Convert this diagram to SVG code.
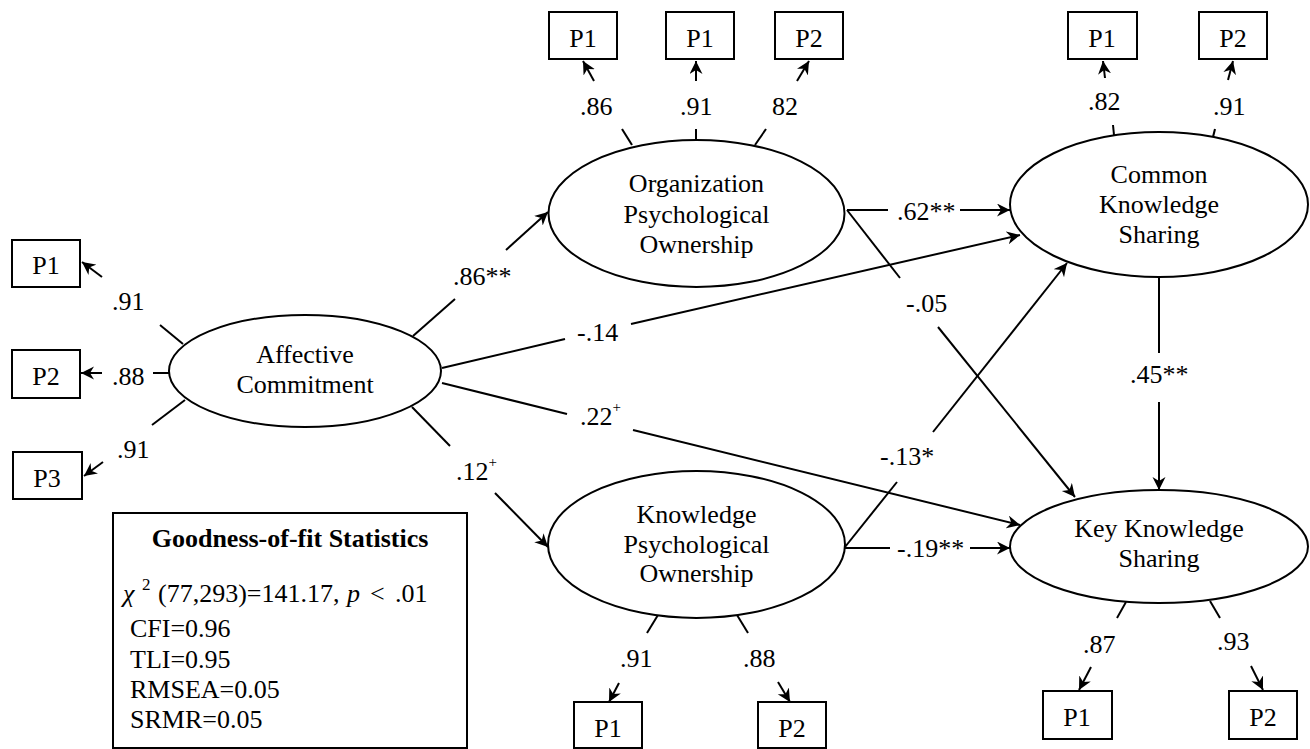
<svg xmlns="http://www.w3.org/2000/svg" width="1310" height="749" viewBox="0 0 1310 749">
<defs>
<style>
text{font-family:'Liberation Serif','Times New Roman',Times,'DejaVu Serif',serif;font-size:26px;fill:#000}
.c{text-anchor:middle}
.box{fill:#fff;stroke:#000;stroke-width:2}
.ell{fill:#fff;stroke:#000;stroke-width:2}
.ln{stroke:#000;stroke-width:2;fill:none}
.ar{stroke:#000;stroke-width:2;fill:none;marker-end:url(#ah)}
.sup{font-size:15px}
.sq{font-size:17px}
</style>
<marker id="ah" markerUnits="userSpaceOnUse" markerWidth="14" markerHeight="14" refX="13" refY="6.5" orient="auto" viewBox="0 0 14 14">
<path d="M0,0 L13,6.5 L0,13 L4,6.5 Z" fill="#000"/>
</marker>
</defs>
<rect width="1310" height="749" fill="#fff"/>

<g id="connectors">
<line class="ln" x1="160" y1="325" x2="183" y2="344"/>
<line class="ar" x1="102" y1="277" x2="82" y2="262"/>
<line class="ln" x1="153" y1="373" x2="170" y2="373"/>
<line class="ar" x1="102" y1="373" x2="81" y2="373"/>
<line class="ln" x1="152" y1="425" x2="185" y2="400"/>
<line class="ar" x1="103" y1="462" x2="84" y2="476"/>
<line class="ln" x1="622" y1="129" x2="632" y2="145"/>
<line class="ar" x1="594" y1="81" x2="583" y2="61"/>
<line class="ln" x1="696" y1="129" x2="696" y2="140"/>
<line class="ar" x1="696" y1="81" x2="696" y2="61"/>
<line class="ln" x1="766" y1="129" x2="755" y2="145"/>
<line class="ar" x1="797" y1="81" x2="809" y2="61"/>
<line class="ln" x1="1113" y1="125" x2="1114" y2="135"/>
<line class="ar" x1="1105" y1="78" x2="1103" y2="61"/>
<line class="ln" x1="1215" y1="129" x2="1213" y2="137"/>
<line class="ar" x1="1228" y1="80" x2="1233" y2="61"/>
<line class="ln" x1="658" y1="615" x2="647" y2="633"/>
<line class="ar" x1="619" y1="683" x2="609" y2="702"/>
<line class="ln" x1="737" y1="615" x2="748" y2="633"/>
<line class="ar" x1="778" y1="682" x2="790" y2="702"/>
<line class="ln" x1="1126" y1="602" x2="1117" y2="618"/>
<line class="ar" x1="1091" y1="667" x2="1079" y2="690"/>
<line class="ln" x1="1210" y1="601" x2="1220" y2="618"/>
<line class="ar" x1="1251" y1="666" x2="1263" y2="690"/>
<line class="ln" x1="413" y1="336" x2="455" y2="299"/>
<line class="ar" x1="506" y1="250" x2="548" y2="212"/>
<line class="ln" x1="442" y1="368" x2="565" y2="339"/>
<line class="ar" x1="631" y1="324" x2="1020" y2="235"/>
<line class="ln" x1="442" y1="383" x2="567" y2="414"/>
<line class="ar" x1="633" y1="430" x2="1020" y2="525"/>
<line class="ln" x1="412" y1="407" x2="450" y2="446"/>
<line class="ar" x1="495" y1="493" x2="548" y2="547"/>
<line class="ln" x1="847" y1="210" x2="888" y2="210"/>
<line class="ar" x1="960" y1="210" x2="1010" y2="210"/>
<line class="ln" x1="847" y1="210" x2="900" y2="278"/>
<line class="ar" x1="938" y1="327" x2="1075" y2="497"/>
<line class="ln" x1="845" y1="547" x2="897" y2="482"/>
<line class="ar" x1="933" y1="432" x2="1067" y2="263"/>
<line class="ln" x1="845" y1="548" x2="890" y2="548"/>
<line class="ar" x1="970" y1="548" x2="1010" y2="548"/>
<line class="ln" x1="1159" y1="277" x2="1159" y2="353"/>
<line class="ar" x1="1159" y1="402" x2="1159" y2="490"/>
</g>

<g id="labels">
<text x="112" y="310">.91</text>
<text x="112" y="385">.88</text>
<text x="117" y="458">.91</text>
<text x="580" y="115">.86</text>
<text x="680" y="115">.91</text>
<text x="772" y="115">82</text>
<text x="1088" y="110">.82</text>
<text x="1213" y="115">.91</text>
<text x="620" y="667">.91</text>
<text x="743" y="667">.88</text>
<text x="1083" y="653">.87</text>
<text x="1217" y="650">.93</text>
<text x="453" y="285">.86**</text>
<text x="577" y="341">-.14</text>
<text x="580" y="425">.22<tspan class="sup" dy="-13">+</tspan></text>
<text x="456" y="480">.12<tspan class="sup" dy="-13">+</tspan></text>
<text x="897" y="220">.62**</text>
<text x="906" y="312">-.05</text>
<text x="880" y="465">-.13*</text>
<text x="897" y="557">-.19**</text>
<text x="1130" y="383">.45**</text>
</g>

<g id="affective">
<ellipse class="ell" cx="305" cy="371" rx="136" ry="56"/>
<text class="c" x="305" y="363">Affective</text>
<text class="c" x="305" y="393">Commitment</text>
</g>
<g id="aff-p1"><rect class="box" x="12" y="240" width="68" height="47"/><text class="c" x="46" y="274">P1</text></g>
<g id="aff-p2"><rect class="box" x="12" y="350" width="68" height="48"/><text class="c" x="46" y="385">P2</text></g>
<g id="aff-p3"><rect class="box" x="13" y="452" width="69" height="47"/><text class="c" x="47" y="487">P3</text></g>

<g id="opo">
<ellipse class="ell" cx="696.5" cy="213.5" rx="148" ry="73.5"/>
<text class="c" x="696.5" y="192">Organization</text>
<text class="c" x="696.5" y="223">Psychological</text>
<text class="c" x="696.5" y="253">Ownership</text>
</g>
<g id="opo-p1a"><rect class="box" x="549" y="12" width="68" height="47"/><text class="c" x="583" y="47">P1</text></g>
<g id="opo-p1b"><rect class="box" x="666" y="12" width="68" height="47"/><text class="c" x="700" y="47">P1</text></g>
<g id="opo-p2"><rect class="box" x="775" y="12" width="68" height="47"/><text class="c" x="809" y="47">P2</text></g>

<g id="kpo">
<ellipse class="ell" cx="696.5" cy="544.5" rx="148.5" ry="73.5"/>
<text class="c" x="696.5" y="523">Knowledge</text>
<text class="c" x="696.5" y="553">Psychological</text>
<text class="c" x="696.5" y="582">Ownership</text>
</g>
<g id="kpo-p1"><rect class="box" x="574" y="702" width="68" height="46"/><text class="c" x="608" y="737">P1</text></g>
<g id="kpo-p2"><rect class="box" x="758" y="702" width="68" height="46"/><text class="c" x="792" y="737">P2</text></g>

<g id="cks">
<ellipse class="ell" cx="1159" cy="204.5" rx="149" ry="72.5"/>
<text class="c" x="1159" y="183">Common</text>
<text class="c" x="1159" y="213">Knowledge</text>
<text class="c" x="1159" y="243">Sharing</text>
</g>
<g id="cks-p1"><rect class="box" x="1068" y="12" width="69" height="47"/><text class="c" x="1102" y="47">P1</text></g>
<g id="cks-p2"><rect class="box" x="1199" y="12" width="68" height="47"/><text class="c" x="1233" y="47">P2</text></g>

<g id="kks">
<ellipse class="ell" cx="1159" cy="546.5" rx="149" ry="56.5"/>
<text class="c" x="1159" y="537">Key Knowledge</text>
<text class="c" x="1159" y="567">Sharing</text>
</g>
<g id="kks-p1"><rect class="box" x="1043" y="691" width="69" height="48"/><text class="c" x="1077" y="726">P1</text></g>
<g id="kks-p2"><rect class="box" x="1229" y="691" width="68" height="48"/><text class="c" x="1263" y="726">P2</text></g>

<g id="fit">
<rect class="box" x="113" y="513" width="354" height="235"/>
<text class="c" x="290" y="547" font-weight="bold">Goodness-of-fit Statistics</text>
<text x="123" y="602" font-style="italic">χ</text>
<text class="sq" x="142" y="590">2</text>
<text x="158" y="602">(77,293)=141.17,</text>
<text x="347" y="602" font-style="italic">p</text>
<text x="370" y="602">&lt;</text>
<text x="395" y="602">.01</text>
<text x="130" y="637">CFI=0.96</text>
<text x="130" y="668">TLI=0.95</text>
<text x="130" y="698">RMSEA=0.05</text>
<text x="130" y="728">SRMR=0.05</text>
</g>
</svg>
